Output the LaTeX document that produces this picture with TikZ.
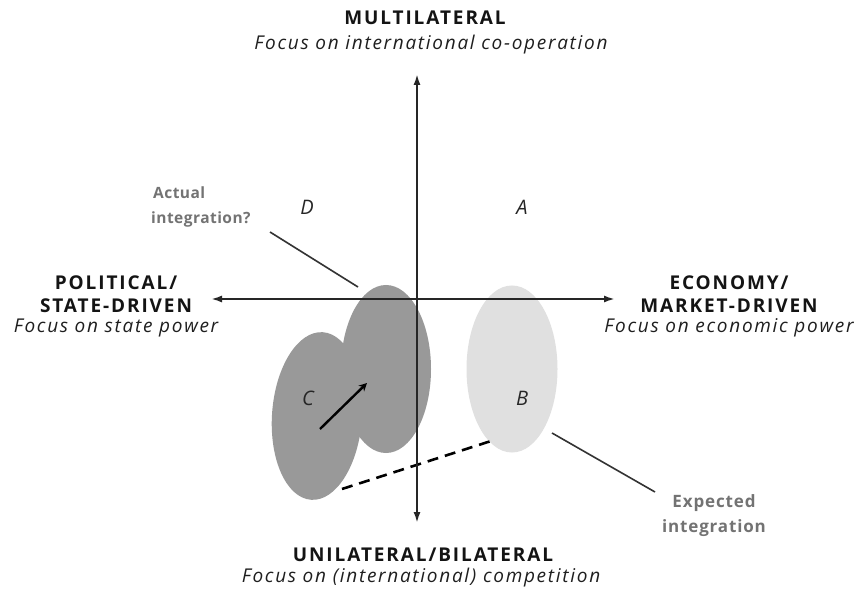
\documentclass[tikz,border=0pt]{standalone}
\usepackage{fontspec}
\setmainfont{Open Sans}
\newfontfamily\headfont[LetterSpace=10]{Open Sans}
\newfontfamily\subfont[LetterSpace=9]{Open Sans}
\newfontfamily\notefont[LetterSpace=5]{Open Sans}
\newfontfamily\asknotefont[LetterSpace=3]{Open Sans}
\usetikzlibrary{arrows.meta,shapes.geometric}
\begin{document}
\begin{tikzpicture}[x=1pt,y=-1pt,
  heading/.style={font=\headfont\fontsize{19}{23}\selectfont\bfseries, inner sep=0pt, text=black!92},
  subhead/.style={font=\subfont\fontsize{19}{23}\selectfont\itshape, inner sep=0pt, text=black!88},
  quad/.style={font=\fontsize{20}{22}\selectfont\itshape, inner sep=0pt, text=black!85},
  note/.style={font=\notefont\fontsize{17}{25}\selectfont\bfseries, inner sep=0pt, text=black!55},
  asknote/.style={font=\asknotefont\fontsize{15.5}{25}\selectfont\bfseries, inner sep=0pt, text=black!55},
  blob/.style={ellipse, draw=none, inner sep=0pt},
  axis/.style={line width=2pt, draw=black!85, {Latex[length=11pt,width=7pt]}-{Latex[length=11pt,width=7pt]}},
  pointer/.style={line width=1.6pt, draw=black!80},
]
\useasboundingbox (0,0) rectangle (859,593);
\fill[white] (0,0) rectangle (859,593);

% regions
\node[blob, fill=black!40, minimum width=90pt, minimum height=168pt, rotate=-4] (cleft) at (317,416) {};
\node[blob, fill=black!40, minimum width=90pt, minimum height=168pt] (cright) at (386,369) {};
\node[blob, fill=black!12, minimum width=91pt, minimum height=167pt] (bblob) at (512,369) {};

% movement within C and the expected path to B
\coordinate (mvs) at (320,429);
\coordinate (mve) at (367,383);
\draw[line width=2.4pt, -{Stealth[length=8pt,width=8pt]}] (mvs) -- (mve);
\coordinate (dsh1) at (342,489);
\coordinate (dsh2) at (491,441);
\draw[line width=2.6pt, dash pattern=on 11pt off 7pt] (dsh1) -- (dsh2);

% axes
\coordinate (vt) at (417,74);
\coordinate (vb) at (417,523);
\coordinate (hl) at (211,299);
\coordinate (hr) at (615,299);
\draw[axis] (vb) -- (vt);
\draw[axis] (hl) -- (hr);

% axis labels
\node[heading] (mult) at (425,18) {MULTILATERAL};
\node[subhead] (multsub) at (431,45) {Focus on international co-operation};
\node[heading] (uni) at (423,555) {UNILATERAL/BILATERAL};
\node[subhead] (unisub) at (421,578) {Focus on (international) competition};
\node[heading, align=center] (pol) at (116,294) {POLITICAL/\\STATE-DRIVEN};
\node[subhead] (polsub) at (116,328) {Focus on state power};
\node[heading, align=center] (eco) at (729,294) {ECONOMY/\\MARKET-DRIVEN};
\node[subhead] (ecosub) at (729,328) {Focus on economic power};

% quadrants
\node[quad] (qa) at (522,207) {A};
\node[quad] (qb) at (522,398) {B};
\node[quad] (qc) at (308,398) {C};
\node[quad] (qd) at (307,207) {D};

% annotations
\node[asknote, align=left, anchor=north west] (actual) at (151,187) {\hspace*{2pt}Actual\\integration?};
\coordinate (act1) at (270,232);
\coordinate (act2) at (358,287);
\draw[pointer] (act1) -- (act2);
\node[note, align=center] (expected) at (714,516) {Expected\\integration};
\coordinate (exp1) at (552,433);
\coordinate (exp2) at (655,492);
\draw[pointer] (exp1) -- (exp2);
\end{tikzpicture}
\end{document}
